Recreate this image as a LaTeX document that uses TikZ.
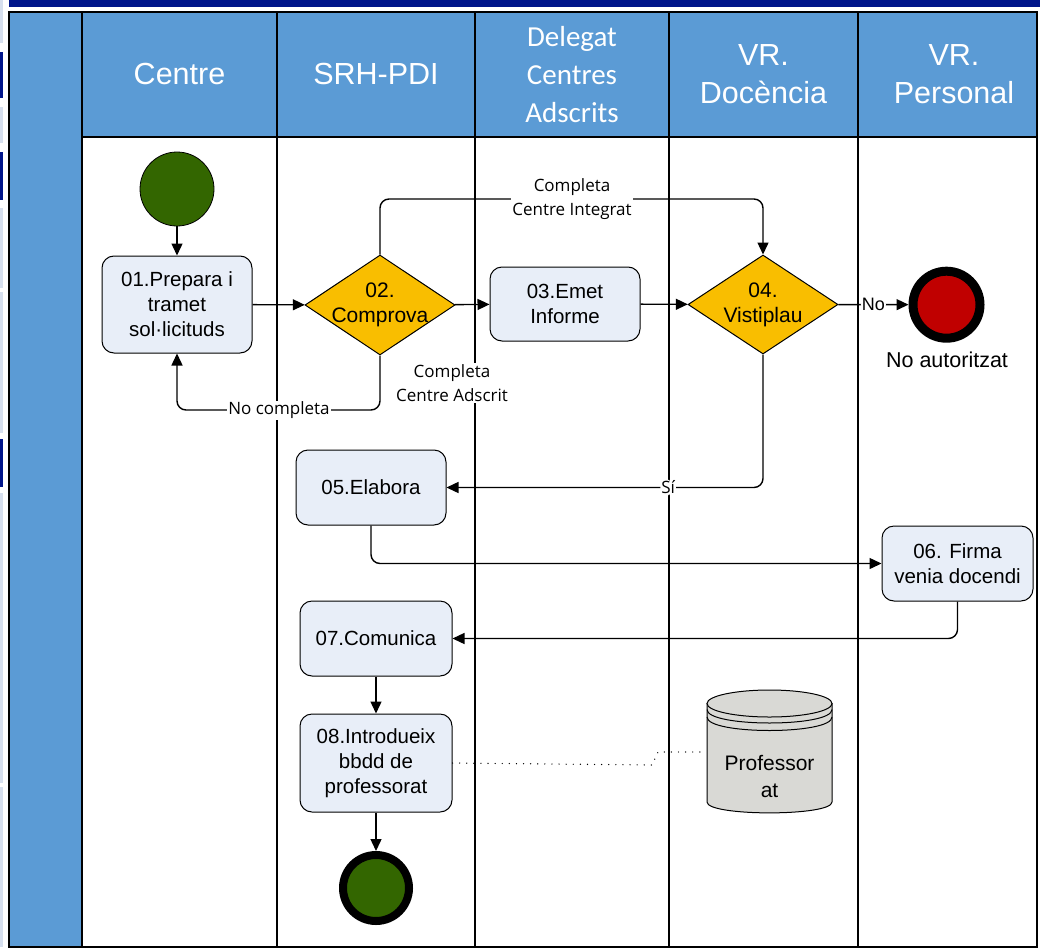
\documentclass[tikz,border=0pt]{standalone}
\usepackage{fontspec}
\setmainfont{Liberation Sans}
\newfontfamily\lblfont{Open Sans}
\newfontfamily\calfont{Carlito}
\usetikzlibrary{shapes.geometric,arrows.meta}
\definecolor{hdrblue}{HTML}{5B9BD5}
\definecolor{navy}{HTML}{00158A}
\definecolor{edgelight}{HTML}{D6DFEE}
\definecolor{taskfill}{HTML}{E8EEF8}
\definecolor{gold}{HTML}{F9BE00}
\definecolor{startgreen}{HTML}{336600}
\definecolor{endred}{HTML}{C00000}
\definecolor{dbgrey}{HTML}{D9D9D5}
\begin{document}
\begin{tikzpicture}[x=1pt,y=-1pt,
  lane/.style={line width=2pt},
  hdrtext/.style={text=white, align=center, font=\fontsize{30.5}{38}\selectfont},
  task/.style={draw, line width=1pt, rounded corners=12pt, fill=taskfill, align=center,
    inner sep=0pt, font=\fontsize{20.5}{25}\selectfont},
  gateway/.style={draw, line width=1pt, diamond, fill=gold, inner sep=0pt},
  gwtext/.style={align=center, font=\fontsize{21}{25}\selectfont},
  conn/.style={-{Triangle[length=12pt,width=11pt]}, line width=1.4pt, rounded corners=9pt},
  lbl/.style={fill=white, inner sep=1pt, align=center, font=\lblfont\fontsize{17}{24}\selectfont},
  dotline/.style={line width=1.3pt, dash pattern=on 0.1pt off 7pt, line cap=round}
]
\useasboundingbox (0,0) rectangle (1040,947);
% left edge fragments
\fill[edgelight] (0,0) rectangle (3,43);
\fill[navy] (0,52) rectangle (3,98);
\fill[edgelight] (0,107) rectangle (3,143);
\fill[navy] (0,152) rectangle (3,200);
\fill[edgelight] (0,208) rectangle (3,288);
\fill[edgelight] (0,292) rectangle (3,433);
\fill[navy] (0,439) rectangle (3,487);
\fill[edgelight] (0,493) rectangle (3,783);
\fill[edgelight] (0,787) rectangle (3,947);
% top bar
\fill[navy] (9,0) rectangle (1040,7);
% pool
\fill[hdrblue] (9,12) rectangle (82,947);
\fill[hdrblue] (82,12) rectangle (1037,137);
\draw[lane] (9,12) rectangle (1037,947);
\foreach \xx in {82,277,475,669,858} \draw[lane] (\xx,12) -- (\xx,947);
\draw[lane] (82,137) -- (1037,137);
% headers
\node[hdrtext] (hC) at (179.5,74) {Centre};
\node[hdrtext] (hS) at (376,74) {SRH-PDI};
\node[hdrtext, font=\calfont\fontsize{29}{38}\selectfont] (hD) at (572,75) {Delegat\\Centres\\Adscrits};
\node[hdrtext] (hV) at (763.5,74) {VR.\\Docència};
\node[hdrtext] (hP) at (954,74) {VR.\\Personal};
% nodes
\node[circle, draw, line width=0.8pt, fill=startgreen, minimum size=74pt, inner sep=0pt] (start) at (177,189) {};
\node[task, minimum width=150pt, minimum height=97pt] (t01) at (177,304.5) {01.Prepara i\\tramet\\sol·licituds};
\node[gateway, minimum width=150pt, minimum height=100pt] (d02) at (380,305) {};
\node[gwtext] (d02t) at (380,305) {02.\\Comprova};
\node[task, minimum width=150pt, minimum height=74pt] (t03) at (565,304) {03.Emet\\Informe};
\node[gateway, minimum width=150pt, minimum height=99pt] (d04) at (763,304.5) {};
\node[gwtext] (d04t) at (763,304.5) {04.\\Vistiplau};
\node[circle, draw, line width=9pt, fill=endred, minimum size=67pt, inner sep=0pt] (endR) at (946.5,304.7) {};
\node[font=\fontsize{21.5}{24}\selectfont] (noaut) at (947,360) {No autoritzat};
\node[task, minimum width=150pt, minimum height=75pt] (t05) at (371,487.5) {05.Elabora};
\node[task, minimum width=151pt, minimum height=75pt] (t06) at (957.5,563.5) {06. Firma\\venia docendi};
\node[task, minimum width=152pt, minimum height=75pt] (t07) at (376,638.5) {07.Comunica};
\node[task, minimum width=152pt, minimum height=98pt] (t08) at (376,763) {08.Introdueix\\bbdd de\\professorat};
\node[circle, draw, line width=8pt, fill=startgreen, minimum size=66pt, inner sep=0pt] (endG) at (376,888) {};
% database
\filldraw[fill=dbgrey, line width=1pt] (707,703.5) -- (707,802) .. controls (707,816.5) and (832,816.5) .. (832,802) -- (832,703.5) -- cycle;
\filldraw[fill=dbgrey, line width=1pt] (769.5,703.5) ellipse [x radius=62.5, y radius=13.5];
\draw[line width=1pt] (707,709.5) .. controls (707,727.5) and (832,727.5) .. (832,709.5);
\draw[line width=1pt] (707,717) .. controls (707,735) and (832,735) .. (832,717);
\node[minimum width=125pt, minimum height=124pt, inner sep=0pt, align=center, font=\fontsize{21}{27}\selectfont] (db) at (769.5,776.5) {Professor\\at};
% connectors
\draw[conn] (start) -- (t01);
\draw[conn] (t01) -- (d02);
\draw[conn] (d02) -- (t03);
\draw[conn] (t03) -- (d04);
\draw[conn] (d04) -- node[fill=white, inner sep=1pt, font=\fontsize{18}{20}\selectfont] {No} (endR);
\coordinate (ci) at (572,199);
\draw[conn] (d02.north) |- (ci) -| (d04.north);
\node[lbl] (lblI) at (ci) {Completa\\Centre Integrat};
\coordinate (nc) at (279,410);
\draw[conn] (d02.south) |- (nc) -| (t01.south);
\node[lbl] (lblN) at (nc) {No completa};
\node[lbl] (lblA) at (452,383) {Completa\\Centre Adscrit};
\draw[conn] (d04.south) |- node[pos=0.65, lbl] {Sí} (t05.east);
\draw[conn] (t05.south) |- (t06.west);
\draw[conn] (t06.south) |- (t07.east);
\draw[conn] (t07) -- (t08);
\draw[conn] (t08) -- (endG);
\coordinate (k1) at (652,765);
\coordinate (k2) at (658,752);
\draw[dotline] (t08.east) -- (k1) -- (k2) -- (k2 -| db.west);
\end{tikzpicture}
\end{document}
